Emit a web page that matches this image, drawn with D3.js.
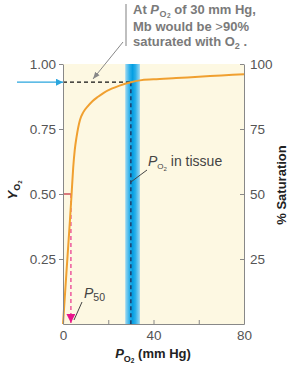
<!DOCTYPE html>
<html><head><meta charset="utf-8">
<script src="https://cdn.jsdelivr.net/npm/d3@7"></script>
<style>body{margin:0;background:#fff}svg{display:block;font-family:"Liberation Sans",Arial,sans-serif}</style>
</head><body><svg id="c" width="291" height="371"></svg>
<script>
// Data
const pO2 = [0, 1, 2, 3, 3.8, 4.5, 5.2, 6, 7.5, 9, 11, 13, 15.5, 18, 21.5, 25, 30, 34, 40, 50, 60, 70, 80];
const yO2 = [0, 0.13, 0.26, 0.39, 0.50, 0.60, 0.67, 0.72, 0.785, 0.815, 0.838, 0.857, 0.874, 0.889, 0.905, 0.917, 0.93, 0.937, 0.941, 0.946, 0.951, 0.956, 0.961];
const leftTicks = [0.25, 0.5, 0.75, 1.0];
const rightTicks = [25, 50, 75, 100];
const xTicks = [0, 20, 40, 60, 80];
const xLabelled = [0, 40, 80];
const tissuePO2 = 30, tissueBand = [27.5, 34];
const satAt30 = 0.93;
const p50 = 3.5;

const svg = d3.select("#c");
const x = d3.scaleLinear().domain([0, 80]).range([63, 244]);
const y = d3.scaleLinear().domain([0, 1]).range([324, 64]);
const yR = d3.scaleLinear().domain([0, 100]).range([324, 64]);

const defs = svg.append("defs");
const g1 = defs.append("linearGradient").attr("id", "band").attr("x1", "0").attr("x2", "1");
[[0, "#9ed9f2"], [0.3, "#2cb0ea"], [0.5, "#049ee2"], [0.7, "#2cb0ea"], [1, "#9ed9f2"]]
  .forEach(([o, c]) => g1.append("stop").attr("offset", o).attr("stop-color", c));
defs.append("marker").attr("id", "mBlue").attr("viewBox", "0 0 10 10").attr("refX", 10).attr("refY", 5)
  .attr("markerWidth", 7).attr("markerHeight", 7).attr("orient", "auto").attr("markerUnits", "userSpaceOnUse")
  .append("path").attr("d", "M0,0L10,5L0,10z").attr("fill", "#2aa6de");
defs.append("marker").attr("id", "mGray").attr("viewBox", "0 0 10 10").attr("refX", 10).attr("refY", 5)
  .attr("markerWidth", 7).attr("markerHeight", 7).attr("orient", "auto").attr("markerUnits", "userSpaceOnUse")
  .append("path").attr("d", "M0,1L10,5L0,9z").attr("fill", "#888");
defs.append("marker").attr("id", "mPink").attr("viewBox", "0 0 10 10").attr("refX", 10).attr("refY", 5)
  .attr("markerWidth", 9).attr("markerHeight", 9).attr("orient", "auto").attr("markerUnits", "userSpaceOnUse")
  .append("path").attr("d", "M0,0L10,5L0,10z").attr("fill", "#e8158c");

// plot background
svg.append("rect").attr("x", x(0)).attr("y", y(1)).attr("width", x(80) - x(0)).attr("height", y(0) - y(1)).attr("fill", "#fdf8e2");

// tissue band
svg.append("rect").attr("x", x(tissueBand[0])).attr("y", y(1)).attr("width", x(tissueBand[1]) - x(tissueBand[0]))
  .attr("height", y(0) - y(1)).attr("fill", "url(#band)");

// dashed guides
svg.append("line").attr("x1", x(0)).attr("x2", x(tissuePO2)).attr("y1", y(satAt30)).attr("y2", y(satAt30))
  .attr("stroke", "#111").attr("stroke-width", 1.3).attr("stroke-dasharray", "4,3");
svg.append("line").attr("x1", x(tissuePO2)).attr("x2", x(tissuePO2)).attr("y1", y(satAt30)).attr("y2", y(0))
  .attr("stroke", "#1b2b55").attr("stroke-width", 1.3).attr("stroke-dasharray", "4,3");

// P50 markers
svg.append("line").attr("x1", x(0)).attr("x2", x(p50)).attr("y1", y(0.5)).attr("y2", y(0.5))
  .attr("stroke", "#c0263a").attr("stroke-width", 1.2);
svg.append("line").attr("x1", x(p50)).attr("x2", x(p50)).attr("y1", y(0.5)).attr("y2", y(0) - 1)
  .attr("stroke", "#e8308c").attr("stroke-width", 1.2).attr("stroke-dasharray", "4,3").attr("marker-end", "url(#mPink)");

// curve
const data = pO2.map((p, i) => [p, yO2[i]]);
svg.append("path").datum(data).attr("fill", "none").attr("stroke", "#f0a030").attr("stroke-width", 2)
  .attr("d", d3.line().x(d => x(d[0])).y(d => y(d[1])).curve(d3.curveMonotoneX));

// axes
const axCol = "#888", txtCol = "#555";
function style(g) {
  g.selectAll("path,line").attr("stroke", axCol);
  g.selectAll("text").attr("fill", txtCol).attr("font-size", 13.5);
}
svg.append("g").attr("transform", `translate(${x(0)},0)`)
  .call(d3.axisLeft(y).tickValues(leftTicks).tickFormat(d3.format(".2f")).tickSize(4).tickSizeOuter(0).tickPadding(3))
  .call(style);
svg.append("g").attr("transform", `translate(${x(80)},0)`)
  .call(d3.axisRight(yR).tickValues(rightTicks).tickSizeInner(-4).tickSizeOuter(0).tickPadding(6))
  .call(style);
svg.append("g").attr("transform", `translate(0,${y(0)})`)
  .call(d3.axisBottom(x).tickValues(xTicks).tickFormat(d => xLabelled.includes(d) ? d : "").tickSizeInner(-4).tickSizeOuter(0).tickPadding(6))
  .call(style);

// blue arrow at left
svg.append("line").attr("x1", 17).attr("x2", x(0)).attr("y1", y(satAt30)).attr("y2", y(satAt30))
  .attr("stroke", "#2aa6de").attr("stroke-width", 1.3).attr("marker-end", "url(#mBlue)");

// axis titles
const xt = svg.append("text").attr("x", 153).attr("y", 358).attr("text-anchor", "middle")
  .attr("font-weight", "bold").attr("font-size", 13).attr("fill", "#222");
xt.append("tspan").attr("font-style", "italic").text("P");
xt.append("tspan").attr("font-size", 9).attr("dy", 3.5).text("O");
xt.append("tspan").attr("font-size", 6.5).attr("dy", 1.5).text("2");
xt.append("tspan").attr("dy", -5).text(" (mm Hg)");

const yt = svg.append("text").attr("transform", "translate(17,190) rotate(-90)").attr("text-anchor", "middle")
  .attr("font-weight", "bold").attr("font-size", 13.5).attr("fill", "#222");
yt.append("tspan").attr("font-style", "italic").text("Y");
yt.append("tspan").attr("font-size", 9).attr("dy", 3).text("O");
yt.append("tspan").attr("font-size", 6).attr("dy", 1.5).text("2");

svg.append("text").attr("transform", "translate(286,185) rotate(-90)").attr("text-anchor", "middle")
  .attr("font-weight", "bold").attr("font-size", 13).attr("fill", "#222").text("% Saturation");

// P_O2 in tissue label
const tl = svg.append("text").attr("x", 148).attr("y", 166).attr("font-size", 14).attr("fill", "#444");
tl.append("tspan").attr("font-style", "italic").text("P");
tl.append("tspan").attr("font-size", 8).attr("dy", 3).text("O");
tl.append("tspan").attr("font-size", 6).attr("dy", 1.5).text("2");
tl.append("tspan").attr("dy", -4.5).text(" in tissue");
svg.append("line").attr("x1", 147).attr("y1", 170).attr("x2", x(tissuePO2)).attr("y2", 182).attr("stroke", "#444").attr("stroke-width", 1);

// P50 label
const pl = svg.append("text").attr("x", 84).attr("y", 298).attr("font-size", 14).attr("fill", "#444");
pl.append("tspan").attr("font-style", "italic").text("P");
pl.append("tspan").attr("font-size", 10.5).attr("dy", 3).text("50");
svg.append("line").attr("x1", 82).attr("y1", 302).attr("x2", 74).attr("y2", 320).attr("stroke", "#444").attr("stroke-width", 1);

// top annotation
svg.append("line").attr("x1", 126).attr("x2", 126).attr("y1", 4).attr("y2", 46).attr("stroke", "#aaa").attr("stroke-width", 1.5);
const an = svg.append("text").attr("font-weight", "bold").attr("font-size", 13).attr("fill", "#7a7a7a");
const l1 = an.append("tspan").attr("x", 133).attr("y", 14);
l1.append("tspan").text("At ");
l1.append("tspan").attr("font-style", "italic").text("P");
l1.append("tspan").attr("font-size", 9).attr("dx", 0.5).attr("dy", 3).text("O");
l1.append("tspan").attr("font-size", 6.5).attr("dx", 0.5).attr("dy", 0.5).text("2");
l1.append("tspan").attr("dy", -3.5).text(" of 30 mm Hg,");
const l2 = an.append("tspan").attr("x", 133).attr("y", 31);
l2.append("tspan").text("Mb would be ");
l2.append("tspan").attr("font-weight", "normal").text(">");
l2.append("tspan").text("90%");
const l3 = an.append("tspan").attr("x", 133).attr("y", 46);
l3.append("tspan").text("saturated with O");
l3.append("tspan").attr("font-size", 9).attr("dy", 3).text("2");
l3.append("tspan").attr("dy", -3).text(" .");
svg.append("line").attr("x1", 123).attr("y1", 42).attr("x2", 93).attr("y2", 79)
  .attr("stroke", "#888").attr("stroke-width", 1).attr("marker-end", "url(#mGray)");
</script></body></html>
